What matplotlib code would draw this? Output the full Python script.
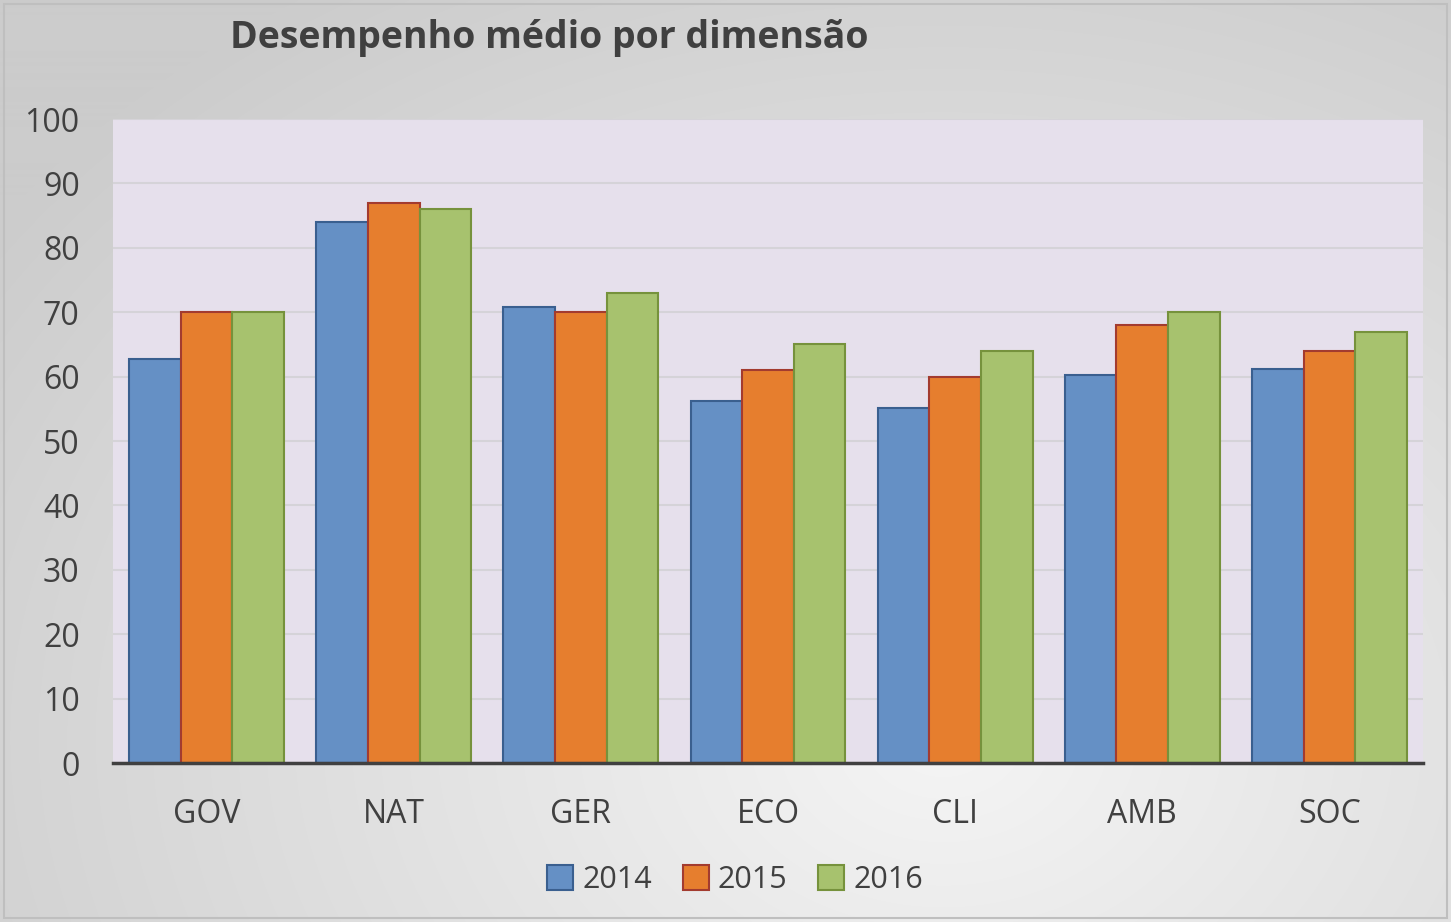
import numpy as np
import matplotlib.pyplot as plt
from matplotlib.patches import Rectangle

categories = ["GOV", "NAT", "GER", "ECO", "CLI", "AMB", "SOC"]
years = ["2014", "2015", "2016"]
v2014 = [62.7, 84.0, 70.8, 56.2, 55.1, 60.2, 61.2]
v2015 = [70, 87, 70, 61, 60, 68, 64]
v2016 = [70, 86, 73, 65, 64, 70, 67]

fills = ["#6590C5", "#E67E2E", "#A7C26E"]
edges = ["#3A5F8F", "#A33B2F", "#76923C"]
txt = "#404040"

plt.rcParams['font.family'] = ['Open Sans', 'DejaVu Sans']

W, H = 1451, 922
fig = plt.figure(figsize=(W / 100, H / 100), dpi=100)

# radial gradient background
bg = fig.add_axes([0, 0, 1, 1], zorder=0)
yy, xx = np.mgrid[0:H, 0:W]
r = np.sqrt(((xx - W * 0.65) / (W * 0.75)) ** 2 + ((yy - H * 0.8) / (H * 0.9)) ** 2)
shade = np.clip(0.96 - 0.15 * r, 0.8, 0.96)
bg.imshow(np.dstack([shade] * 3), extent=[0, W, H, 0], aspect='auto')
bg.add_patch(Rectangle((4, 4), W - 8, H - 8, fill=False, ec="#BFBFBF", lw=1.5))
bg.set_xlim(0, W)
bg.set_ylim(H, 0)
bg.axis('off')

ax = fig.add_axes([113 / W, 1 - 763 / H, 1310 / W, 644 / H], zorder=1)
ax.set_facecolor("#E6E0EC")
x = np.arange(len(categories))
w = 0.276
for i, vals in enumerate([v2014, v2015, v2016]):
    ax.bar(x + (i - 1) * w, vals, w, color=fills[i], edgecolor=edges[i],
           linewidth=1.5, label=years[i], zorder=3)

ax.set_xlim(-0.5, len(categories) - 0.5)
ax.set_ylim(0, 100)
ax.set_yticks(range(0, 101, 10))
ax.yaxis.grid(True, color="#D5D3D8", lw=1.5, zorder=0)
ax.set_axisbelow(True)
for s in ["top", "right", "left"]:
    ax.spines[s].set_visible(False)
ax.spines["bottom"].set_color(txt)
ax.spines["bottom"].set_linewidth(2.5)
ax.spines["bottom"].set_zorder(4)
ax.set_xticks(x)
ax.set_xticklabels(categories)
ax.tick_params(axis='both', length=0, labelsize=23, colors=txt)
ax.tick_params(axis='x', pad=25)
ax.tick_params(axis='y', pad=24)

fig.text(230 / W, 1 - 38 / H, "Desempenho médio por dimensão", fontsize=27,
         fontweight='bold', color=txt, va='center', ha='left')

leg = ax.legend(loc='center', bbox_to_anchor=(735 / W, 1 - 880 / H),
                bbox_transform=fig.transFigure, ncol=3, frameon=False,
                fontsize=22, handlelength=0.85, handleheight=0.85,
                handletextpad=0.3, columnspacing=1.0)
for t in leg.get_texts():
    t.set_color(txt)

fig.savefig("out.png", dpi=100)
